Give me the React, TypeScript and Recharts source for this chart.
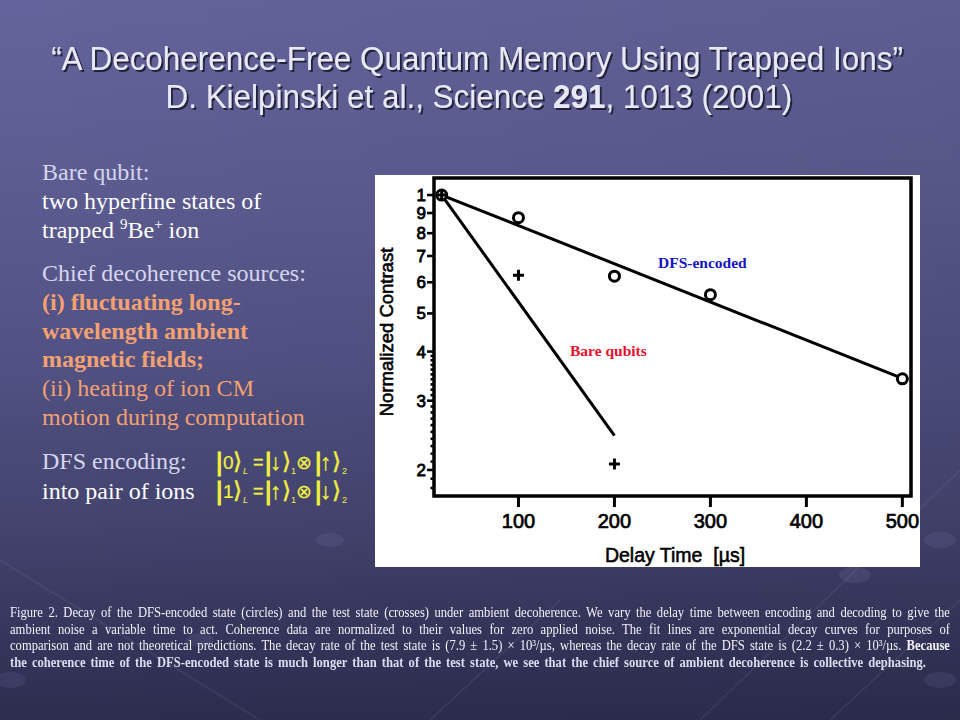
import React from 'react';
import { ScatterChart, Scatter, XAxis, YAxis, ReferenceArea, Label } from 'recharts';

// ---- data ----
const dfsDelay = [20, 100, 200, 300, 500];
const dfsContrast = [1.0, 0.876, 0.622, 0.558, 0.341];
const bareDelay = [20, 100, 200];
const bareContrast = [1.0, 0.625, 0.207];
const dfsFitDelay = [20, 500];
const dfsFitContrast = [1.0, 0.342];
const bareFitDelay = [20, 200];
const bareFitContrast = [1.0, 0.2444];

const xTicks = [100, 200, 300, 400, 500];
const yMajorTicks = [1, 0.9, 0.8, 0.7, 0.6, 0.5, 0.4, 0.3, 0.2];
const yMajorLabels = ['1', '9', '8', '7', '6', '5', '4', '3', '2'];
const yMinorTicks = [
  0.39, 0.38, 0.37, 0.36, 0.35, 0.34, 0.33, 0.32, 0.31,
  0.29, 0.28, 0.27, 0.26, 0.25, 0.24, 0.23, 0.22, 0.21,
  0.19, 0.18,
];
const xDomain = [12, 509];
const yDomain = [0.1717, 1.105];

const toPoints = (xs: number[], ys: number[]) => xs.map((x, i) => ({ x, y: ys[i] }));

const SANS = "'Liberation Sans', Arial, Helvetica, sans-serif";
const SERIF = "'Liberation Serif', 'Times New Roman', serif";
const DEJA = "'DejaVu Sans', sans-serif";

const XTick = (p: any) => {
  const { x, y, payload } = p;
  return (
    <g>
      <line x1={x} x2={x} y1={y} y2={y + 11} stroke="#000" strokeWidth={3} />
      <text x={x} y={y + 32} textAnchor="middle" fontFamily={SANS} fontSize={20} fill="#000" stroke="#000" strokeWidth={0.7}>
        {payload.value}
      </text>
    </g>
  );
};

const YTick = (p: any) => {
  const { x, y, payload } = p;
  const idx = yMajorTicks.findIndex((t) => Math.abs(t - payload.value) < 1e-9);
  if (idx < 0) {
    return <line x1={x - 3.5} x2={x} y1={y} y2={y} stroke="#000" strokeWidth={2.6} />;
  }
  return (
    <g>
      <line x1={x - 7} x2={x} y1={y} y2={y} stroke="#000" strokeWidth={2.6} />
      <text x={x - 8} y={y + 6} textAnchor="end" fontFamily={SANS} fontSize={17} fill="#000" stroke="#000" strokeWidth={0.8}>
        {yMajorLabels[idx]}
      </text>
    </g>
  );
};

const NoShape = () => <g />;
const CircleShape = (p: any) => (
  <circle cx={p.cx} cy={p.cy} r={5} fill="#fff" stroke="#000" strokeWidth={3} />
);
const CrossShape = (p: any) => (
  <path d={`M${p.cx - 5.5},${p.cy} H${p.cx + 5.5} M${p.cx},${p.cy - 5.5} V${p.cy + 5.5}`} stroke="#000" strokeWidth={3} fill="none" />
);

const XTitle = () => (
  <text x={300} y={387} textAnchor="middle" fontFamily={SANS} fontSize={19.5} fill="#000" stroke="#000" strokeWidth={0.55}>
    {'Delay Time\u00a0\u00a0[µs]'}
  </text>
);
const YTitle = () => (
  <text transform="translate(18,157) rotate(-90)" textAnchor="middle" fontFamily={SANS} fontSize={18.5} fill="#000" stroke="#000" strokeWidth={0.6}>
    Normalized Contrast
  </text>
);

const LAV = '#d6d6ef';
const WHITE = '#ffffff';
const ORANGE = '#f4a172';
const YELLOW = '#f2f03e';

const Eq = ({ y, first, a1, a2 }: { y: number; first: string; a1: string; a2: string }) => (
  <g fill={YELLOW} stroke={YELLOW} fontFamily={SANS}>
    <text x={216} y={y + 1} fontSize={25} strokeWidth={1.1}>|</text>
    <text x={223} y={y - 1} fontSize={19} strokeWidth={0.2}>{first}</text>
    <text x={233} y={y - 1} fontSize={23} fontFamily={DEJA} strokeWidth={0.5}>⟩</text>
    <text x={243} y={y + 4} fontSize={9} fontStyle="italic" strokeWidth={0}>L</text>
    <text x={253} y={y - 2} fontSize={18} strokeWidth={0.3}>=</text>
    <text x={265} y={y + 1} fontSize={25} strokeWidth={1.1}>|</text>
    <text x={270} y={y} fontSize={23} strokeWidth={0.3}>{a1}</text>
    <text x={282} y={y - 1} fontSize={23} fontFamily={DEJA} strokeWidth={0.5}>⟩</text>
    <text x={291} y={y + 4} fontSize={9} strokeWidth={0}>1</text>
    <text x={296} y={y - 1} fontSize={19} fontFamily={DEJA} strokeWidth={0.2}>⊗</text>
    <text x={315} y={y + 1} fontSize={25} strokeWidth={1.1}>|</text>
    <text x={320} y={y} fontSize={23} strokeWidth={0.3}>{a2}</text>
    <text x={332} y={y - 1} fontSize={23} fontFamily={DEJA} strokeWidth={0.5}>⟩</text>
    <text x={342} y={y + 4} fontSize={9} strokeWidth={0}>2</text>
  </g>
);

const lineStyle: React.CSSProperties = { textAlign: 'justify', textAlignLast: 'justify', height: 16.5, overflow: 'hidden', whiteSpace: 'normal' };

export default function App() {
  return (
    <div
      style={{
        position: 'fixed',
        left: 0,
        top: 0,
        width: 960,
        height: 720,
        overflow: 'hidden',
        background:
          'linear-gradient(90deg, rgba(0,0,0,0) 0%, rgba(0,0,0,0.07) 100%), linear-gradient(180deg, #64649c 0%, #5c5c91 25%, #515184 50%, #44446f 72%, #36365d 88%, #2d2d4f 100%)',
      }}
    >
      {/* faint background decoration */}
      <svg width={960} height={720} style={{ position: 'absolute', left: 0, top: 0 }}>
        <defs>
          <filter id="tshadow" x="-5%" y="-30%" width="110%" height="160%">
            <feDropShadow dx={2} dy={2} stdDeviation={0.6} floodColor="#1a1a34" floodOpacity={0.95} />
          </filter>
        </defs>
        <g stroke="rgba(190,190,235,0.08)" strokeWidth={2} fill="none">
          <line x1={700} y1={720} x2={960} y2={470} />
          <line x1={830} y1={720} x2={960} y2={600} />
          <line x1={0} y1={560} x2={260} y2={720} />
          <line x1={430} y1={720} x2={560} y2={600} />
        </g>
        <g fill="rgba(170,170,225,0.10)">
          <ellipse cx={940} cy={540} rx={16} ry={8} />
          <ellipse cx={855} cy={575} rx={16} ry={8} />
          <ellipse cx={940} cy={680} rx={16} ry={8} />
          <ellipse cx={10} cy={680} rx={16} ry={8} />
          <ellipse cx={330} cy={540} rx={14} ry={7} />
          <ellipse cx={200} cy={640} rx={14} ry={7} />
        </g>
      </svg>

      {/* chart */}
      <div style={{ position: 'absolute', left: 375, top: 175, width: 545, height: 392, background: '#ffffff' }}>
        <ScatterChart width={545} height={392} margin={{ top: 3, right: 9, bottom: 0, left: 0 }}>
          <XAxis
            type="number"
            dataKey="x"
            domain={xDomain}
            ticks={xTicks}
            interval={0}
            tickSize={0}
            tickMargin={0}
            tickLine={false}
            axisLine={false}
            height={71}
            tick={(p: any) => <XTick {...p} />}
            allowDataOverflow
          >
            <Label content={XTitle} />
          </XAxis>
          <YAxis
            type="number"
            dataKey="y"
            scale="log"
            domain={yDomain}
            ticks={[...yMajorTicks, ...yMinorTicks]}
            interval={0}
            tickSize={0}
            tickMargin={0}
            tickLine={false}
            axisLine={false}
            width={59}
            tick={(p: any) => <YTick {...p} />}
            allowDataOverflow
          >
            <Label content={YTitle} />
          </YAxis>
          <ReferenceArea
            x1={xDomain[0]}
            x2={xDomain[1]}
            y1={yDomain[0]}
            y2={yDomain[1]}
            fill="none"
            stroke="#000"
            strokeWidth={3.5}
            ifOverflow="visible"
          />
          <Scatter data={toPoints(dfsFitDelay, dfsFitContrast)} line={{ stroke: '#000', strokeWidth: 3 }} shape={NoShape} isAnimationActive={false} />
          <Scatter data={toPoints(bareFitDelay, bareFitContrast)} line={{ stroke: '#000', strokeWidth: 3 }} shape={NoShape} isAnimationActive={false} />
          <Scatter data={toPoints(dfsDelay, dfsContrast)} shape={CircleShape} isAnimationActive={false} />
          <Scatter data={toPoints(bareDelay, bareContrast)} shape={CrossShape} isAnimationActive={false} />
        </ScatterChart>
      </div>

      {/* slide texts */}
      <svg width={960} height={720} style={{ position: 'absolute', left: 0, top: 0, pointerEvents: 'none' }}>
        <g transform="translate(477,0) scale(0.952,1) translate(-477,0)">
          <g fontFamily={SANS} fontSize={33} textAnchor="middle" fill="#e8e8f6" filter="url(#tshadow)">
            <text x={477} y={70}>“A Decoherence-Free Quantum Memory Using Trapped Ions”</text>
            <text x={479} y={108}>
              D. Kielpinski et al., Science <tspan fontWeight="bold">291</tspan>, 1013 (2001)
            </text>
          </g>
        </g>

        {/* left column */}
        <g fontFamily={SERIF} fontSize={24}>
          <text x={42} y={179.5} fill={LAV}>Bare qubit:</text>
          <text x={42} y={208.5} fill={WHITE}>two hyperfine states of</text>
          <text x={42} y={237.5} fill={WHITE}>
            trapped <tspan fontSize={15} dy={-9}>9</tspan>
            <tspan dy={9}>Be</tspan>
            <tspan fontSize={15} dy={-9}>+</tspan>
            <tspan dy={9}> ion</tspan>
          </text>
          <text x={42} y={280.5} fill={LAV}>Chief decoherence sources:</text>
          <text x={42} y={309.5} fill={ORANGE} fontWeight="bold">(i) fluctuating long-</text>
          <text x={42} y={338.5} fill={ORANGE} fontWeight="bold">wavelength ambient</text>
          <text x={42} y={366.5} fill={ORANGE} fontWeight="bold">magnetic fields;</text>
          <text x={42} y={395.5} fill={ORANGE}>(ii) heating of ion CM</text>
          <text x={42} y={424.5} fill={ORANGE}>motion during computation</text>
          <text x={42} y={468.5} fill={LAV}>DFS encoding:</text>
          <text x={42} y={498.5} fill={WHITE}>into pair of ions</text>
        </g>

        <Eq y={470} first="0" a1="↓" a2="↑" />
        <Eq y={499} first="1" a1="↑" a2="↓" />

        {/* in-chart annotations */}
        <text x={658} y={268} fontFamily={SERIF} fontSize={15.5} fontWeight="bold" fill="#1414c4">DFS-encoded</text>
        <text x={570} y={356} fontFamily={SERIF} fontSize={15.5} fontWeight="bold" fill="#e8102c">Bare qubits</text>
      </svg>

      {/* caption */}
      <div
        style={{
          position: 'absolute',
          left: 10,
          top: 605,
          width: 1044.4,
          transform: 'scaleX(0.9)',
          transformOrigin: '0 0',
          fontFamily: SERIF,
          fontSize: 14,
          lineHeight: '16.5px',
          color: '#f2f2fa',
        }}
      >
        <div style={lineStyle}>
          Figure 2. Decay of the DFS-encoded state (circles) and the test state (crosses) under ambient decoherence. We vary the delay time between encoding and decoding to give the
        </div>
        <div style={lineStyle}>
          ambient noise a variable time to act. Coherence data are normalized to their values for zero applied noise. The fit lines are exponential decay curves for purposes of
        </div>
        <div style={lineStyle}>
          comparison and are not theoretical predictions. The decay rate of the test state is (7.9 ± 1.5) × 10³/µs, whereas the decay rate of the DFS state is (2.2 ± 0.3) × 10³/µs. <b>Because</b>
        </div>
        <div style={{ ...lineStyle, width: 1017.8, fontWeight: 'bold', color: '#dcdcf0' }}>
          the coherence time of the DFS-encoded state is much longer than that of the test state, we see that the chief source of ambient decoherence is collective dephasing.
        </div>
      </div>
    </div>
  );
}
